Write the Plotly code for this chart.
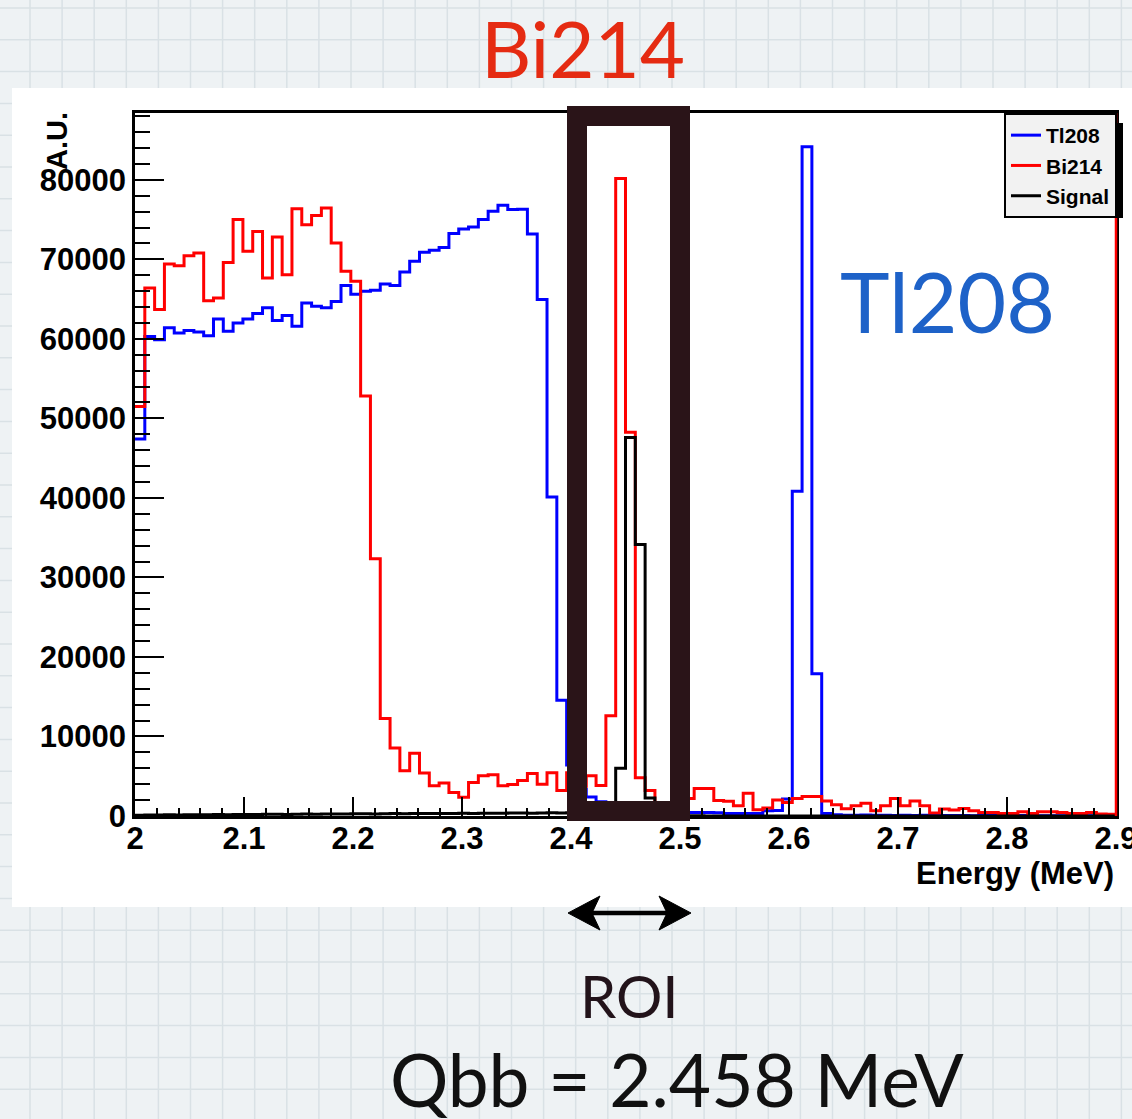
import numpy as np
import plotly.graph_objects as go

# ---------------- data ----------------
bin_lo, bin_hi, n_bins = 2.0, 2.9, 100   # Energy (MeV) histogram binning

tl208 = [47400, 60300, 59900, 61400, 60750, 61050, 60850, 60400, 62500, 60950,
         62000, 62500, 63200, 63900, 62300, 62950, 61600, 64500, 64100, 63900,
         64700, 66700, 65600, 66000, 66100, 66900, 66700, 68400, 69750, 70900,
         71150, 71500, 73250, 73800, 74050, 75000, 76050, 76800, 76250, 76300,
         73200, 64950, 40100, 14550, 6400, 3350, 2400, 1800, 1500, 1150,
         1000, 850, 650, 550, 500, 480, 450, 450, 430, 420,
         330, 320, 320, 330, 650, 700, 2150, 40850, 84150, 17900,
         300, 150, 110, 90, 120, 80, 100, 70, 90, 60,
         80, 70, 60, 50, 70, 40, 50, 60, 40, 30,
         50, 40, 30, 40, 20, 30, 40, 20, 30, 20]

bi214 = [51500, 66400, 63700, 69400, 69200, 70450, 70800, 64800, 65150, 69600,
         75000, 71000, 73500, 67650, 72800, 68050, 76350, 74350, 75500, 76450,
         72050, 68500, 67250, 52800, 32350, 12250, 8550, 5700, 7900, 5400,
         3800, 4150, 2950, 2350, 4200, 5050, 5200, 3800, 3950, 4450,
         5350, 4000, 5450, 3200, 5450, 3750, 5050, 3850, 12600, 80150,
         48250, 4800, 3200, 1400, 1350, 1500, 2200, 3450, 3450, 1950,
         1850, 1300, 2850, 800, 1000, 2000, 1700, 2200, 2450, 2450,
         1900, 1400, 900, 1300, 1600, 650, 1300, 2200, 1300, 1900,
         1300, 380, 870, 750, 950, 650, 450, 450, 320, 320,
         530, 320, 530, 520, 450, 320, 310, 450, 240, 230]

signal = [110, 130, 120, 150, 140, 160, 150, 170, 180, 160,
          190, 200, 180, 210, 220, 200, 230, 240, 220, 250,
          260, 240, 270, 280, 260, 290, 300, 280, 310, 300,
          320, 330, 310, 340, 330, 350, 360, 340, 370, 380,
          360, 390, 400, 380, 420, 450, 480, 520, 600, 6000,
          47600, 34150, 2250, 650, 200, 80, 40, 20, 10, 0,
          0, 0, 0, 0, 0, 0, 0, 0, 0, 0,
          0, 0, 0, 0, 0, 0, 0, 0, 0, 0,
          0, 0, 0, 0, 0, 0, 0, 0, 0, 0,
          0, 0, 0, 0, 0, 0, 0, 0, 0, 0]

series_names = ["Tl208", "Bi214", "Signal"]

x_tick_vals = [2.0, 2.1, 2.2, 2.3, 2.4, 2.5, 2.6, 2.7, 2.8, 2.9]
x_tick_text = ["2", "2.1", "2.2", "2.3", "2.4", "2.5", "2.6", "2.7", "2.8", "2.9"]
y_tick_vals = [0, 10000, 20000, 30000, 40000, 50000, 60000, 70000, 80000]
y_tick_text = ["0", "10000", "20000", "30000", "40000", "50000", "60000", "70000", "80000"]
y_max = 88400

# ---------------- geometry helpers ----------------
W, H = 1132, 1119
FL, FR, FT, FB = 135, 1116, 113, 816  # plot frame in pixels


def px(x):
    return (x - FL) / (FR - FL)


def py(y):
    return (FB - y) / (FB - FT)


edges = np.linspace(bin_lo, bin_hi, n_bins + 1)


def step_xy(vals):
    return list(edges), list(vals) + [vals[-1]]


fig = go.Figure()
colors = ["#0000ff", "#ff0000", "#000000"]
for name, vals, col in zip(series_names, [tl208, bi214, signal], colors):
    xs, ys = step_xy(vals)
    fig.add_trace(go.Scatter(x=xs, y=ys, mode="lines", name=name,
                             line=dict(color=col, width=3, shape="hv")))

# ---------------- shapes ----------------
shapes = []
grid_col = "#d9e1e5"
for n in range(37):
    gx = 30 + 32.1 * n
    shapes.append(dict(type="line", xref="paper", yref="paper", layer="below",
                       x0=px(gx), x1=px(gx), y0=py(0), y1=py(H),
                       line=dict(color=grid_col, width=1.5)))
for n in range(37):
    gy = 8 + 31.8 * n
    shapes.append(dict(type="line", xref="paper", yref="paper", layer="below",
                       x0=px(0), x1=px(W), y0=py(gy), y1=py(gy),
                       line=dict(color=grid_col, width=1.5)))
# white panel holding the ROOT canvas
shapes.append(dict(type="rect", xref="paper", yref="paper", layer="below",
                   x0=px(12), x1=px(W + 5), y0=py(907), y1=py(88),
                   fillcolor="white", line=dict(width=0)))
# red right frame edge (histogram frame)
shapes.append(dict(type="line", xref="paper", yref="paper", layer="above",
                   x0=1, x1=1, y0=0, y1=1, line=dict(color="#ff0000", width=2.5)))
# ROI hand-drawn box
shapes.append(dict(type="rect", xref="paper", yref="paper", layer="above",
                   x0=px(577), x1=px(680), y0=py(811), y1=py(116),
                   fillcolor="rgba(0,0,0,0)", line=dict(color="#2a1418", width=20)))
# legend shadow
shapes.append(dict(type="rect", xref="paper", yref="paper", layer="above",
                   x0=px(1014), x1=px(1123), y0=py(218), y1=py(123),
                   fillcolor="black", line=dict(width=0)))
# double arrow under ROI
ay = 913
shapes.append(dict(type="line", xref="paper", yref="paper", layer="above",
                   x0=px(590), x1=px(669), y0=py(ay), y1=py(ay),
                   line=dict(color="black", width=4.5)))


def tri(pts):
    s = "M {} {}".format(px(pts[0][0]), py(pts[0][1]))
    for p in pts[1:]:
        s += " L {} {}".format(px(p[0]), py(p[1]))
    return s + " Z"


shapes.append(dict(type="path", xref="paper", yref="paper", layer="above",
                   path=tri([(568, ay), (600, ay - 17), (592, ay), (600, ay + 17)]),
                   fillcolor="black", line=dict(color="black", width=1)))
shapes.append(dict(type="path", xref="paper", yref="paper", layer="above",
                   path=tri([(691, ay), (659, ay - 17), (667, ay), (659, ay + 17)]),
                   fillcolor="black", line=dict(color="black", width=1)))

# ---------------- annotations ----------------
bold = dict(family="Liberation Sans, Arial, sans-serif", weight="bold", color="black")
human = "Lato, Open Sans, sans-serif"
annotations = [
    dict(text="Bi214", x=px(583), y=py(48), font=dict(family=human, size=78, color="#e52b12")),
    dict(text="Tl208", x=px(947), y=py(300), font=dict(family=human, size=84, color="#1e62c8")),
    dict(text="ROI", x=px(629), y=py(995), font=dict(family=human, size=58, color="#22131a")),
    dict(text="Qbb = 2.458 MeV", x=px(677), y=py(1079), font=dict(family=human, size=73, color="#111111")),
    dict(text="A.U.", x=px(57), y=py(141), textangle=-90, font=dict(size=29, **bold)),
    dict(text="Energy (MeV)", x=px(1116), y=py(873), xanchor="right", font=dict(size=31, **bold)),
]
for a in annotations:
    a.setdefault("xref", "paper")
    a.setdefault("yref", "paper")
    a.setdefault("showarrow", False)
    a.setdefault("xanchor", "center")
    a.setdefault("yanchor", "middle")

minor_x = [round(v, 3) for v in np.arange(2.0, 2.9001, 0.02) if abs(round(v * 10) - v * 10) > 1e-6]
minor_y = [v for v in range(0, 88001, 2000) if v % 10000 != 0]

axis_common = dict(showline=True, mirror=True, linecolor="black", linewidth=2.5,
                   ticks="inside", tickwidth=2, tickcolor="black", showgrid=False,
                   zeroline=False, tickmode="array", ticklabeloverflow="allow",
                   automargin=False,
                   tickfont=dict(size=31, **bold))

fig.update_layout(
    width=W, height=H,
    margin=dict(l=FL, r=W - FR, t=FT, b=H - FB, pad=0, autoexpand=False),
    paper_bgcolor="#eef2f4", plot_bgcolor="white",
    showlegend=True,
    legend=dict(x=px(1117), y=py(113), xanchor="right", yanchor="top",
                bgcolor="#f2f2f2", bordercolor="black", borderwidth=2,
                font=dict(size=21, **bold), tracegroupgap=0, itemwidth=30),
    xaxis=dict(range=[bin_lo - 1e-6, bin_hi + 1e-6], tickvals=x_tick_vals, ticktext=x_tick_text,
               ticklen=19, ticklabelstandoff=-7,
               minor=dict(ticks="inside", ticklen=8, tickwidth=2, tickcolor="black",
                          tickmode="array", tickvals=minor_x, showgrid=False),
               **axis_common),
    yaxis=dict(range=[0, y_max], tickvals=y_tick_vals, ticktext=y_tick_text,
               ticklen=29,
               minor=dict(ticks="inside", ticklen=15, tickwidth=2, tickcolor="black",
                          tickmode="array", tickvals=minor_y, showgrid=False),
               **axis_common),
    shapes=shapes,
    annotations=annotations,
)

fig.write_html("out.html")
